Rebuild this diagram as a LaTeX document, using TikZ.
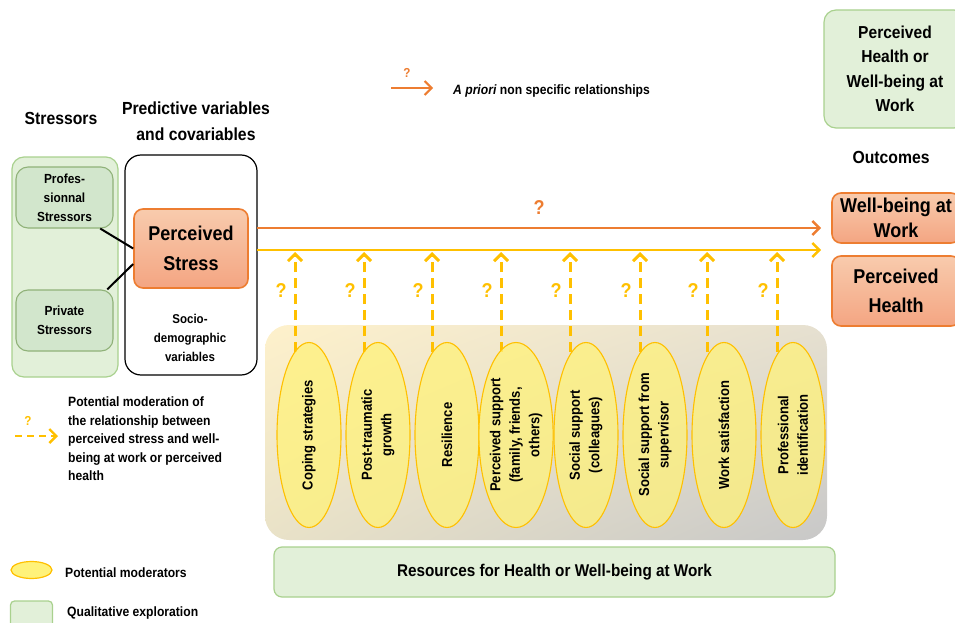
\documentclass[tikz,border=0pt]{standalone}
\usepackage{fontspec}
\setmainfont{Liberation Sans}[FakeStretch=0.9]
\usetikzlibrary{positioning, shapes.geometric, arrows.meta, shadings}
\definecolor{orangeline}{HTML}{ED7D31}
\definecolor{yellowline}{HTML}{FFC000}
\definecolor{stresstop}{HTML}{F8CBAD}
\definecolor{stressbot}{HTML}{F4A582}
\definecolor{greenfill}{HTML}{E2F0D9}
\definecolor{greenline}{HTML}{A9D18E}
\definecolor{stressorfill}{HTML}{D2E6CC}
\definecolor{modfill}{HTML}{FFF27A}
\definecolor{shadeUL}{HTML}{FEF1CB}
\definecolor{shadeUR}{HTML}{E6E0D0}
\definecolor{shadeLL}{HTML}{E9E2C8}
\definecolor{shadeLR}{HTML}{C8C8C8}

\begin{document}
\begin{tikzpicture}[x=1pt, y=-1pt, inner sep=0pt, font=\bfseries,
      head/.style={align=center, font=\fontsize{17.5}{26}\selectfont\bfseries},
      small/.style={align=center, font=\fontsize{13.2}{19}\selectfont\bfseries},
      legend/.style={font=\fontsize{13.5}{18.5}\selectfont\bfseries},
      greenbox/.style={draw=greenline, line width=1.2pt, fill=greenfill, rounded corners=12pt},
      stressorbox/.style={draw=greenline!85!black, line width=1.1pt, fill=stressorfill, rounded corners=12pt,
        minimum width=97, minimum height=61, small},
      outbox/.style={draw=orangeline, line width=1.6pt, top color=stresstop, bottom color=stressbot,
        rounded corners=9pt, align=center},
      moderator/.style={ellipse, draw=yellowline, line width=1.1pt, fill=modfill, fill opacity=0.75, text opacity=1,
        minimum width=185, minimum height=64, rotate=90, align=center,
        font=\fontsize{14.5}{19.5}\selectfont\bfseries},
      relarrow/.style={orangeline, line width=2.4pt, -{Straight Barb[length=7pt, width=14pt]}},
      modarrow/.style={yellowline, line width=2.4pt, -{Straight Barb[length=7pt, width=14pt]}},
      dasharrow/.style={modarrow, line width=3pt, dash pattern=on 10pt off 6pt},
      qmark/.style={font=\fontsize{20}{22}\selectfont\bfseries}]
  \useasboundingbox (0,0) rectangle (955,623);
  % stressors
  \node[head] (stressors) at (61,118) {Stressors};
  \node[greenbox, minimum width=106, minimum height=220] (stressgroup) at (65,267) {};
  \node[stressorbox] (prof) at (64.5,197.5) {Profes-\\sionnal\\Stressors};
  \node[stressorbox] (priv) at (64.5,320.5) {Private\\Stressors};
  % predictive variables, perceived stress
  \node[head] (predictive) at (196,121) {Predictive variables\\and covariables};
  \node[draw, line width=1.2pt, rounded corners=16pt, minimum width=132, minimum height=220] (covbox) at (191,265) {};
  \node[outbox, minimum width=114, minimum height=79,
    font=\fontsize{20}{30}\selectfont\bfseries] (stress) at (191,248.5) {Perceived\\Stress};
  \node[small, font=\fontsize{12.8}{19}\selectfont\bfseries] (socio) at (190,338) {Socio-\\demographic\\variables};
  \draw[line width=2pt] (prof.-41) -- (stress.west);
  \draw[line width=2pt] (priv.36) -- (stress.195);
  % outcomes
  \node[greenbox, minimum width=142, minimum height=118, align=center,
    font=\fontsize{17.3}{24.5}\selectfont\bfseries] (qualout) at (895,69) {Perceived\\Health or\\Well-being at\\Work};
  \node[head] (outcomes) at (891,157) {Outcomes};
  \node[outbox, minimum width=128, minimum height=50,
    font=\fontsize{20}{25}\selectfont\bfseries] (wellbeing) at (896,218) {Well-being at\\Work};
  \node[outbox, minimum width=128, minimum height=70,
    font=\fontsize{20}{29}\selectfont\bfseries] (health) at (896,291) {Perceived\\Health};
  % relationships
  \coordinate (oS) at (257,228);
  \coordinate (oE) at (821,228);
  \coordinate (yS) at (257,250);
  \coordinate (yE) at (821,250);
  \draw[relarrow] (oS) -- (oE);
  \draw[modarrow] (yS) -- (yE);
  \node[qmark, text=orangeline] (qrel) at (539,208) {?};
  % resources
  \shade[rounded corners=24pt, upper left=shadeUL, upper right=shadeUR,
    lower left=shadeLL, lower right=shadeLR] (265,325) rectangle (827,540);
  \foreach \dx/\ex/\txt [count=\i] in {
      295/309/{Coping strategies},
      364/378/{Post-traumatic\\growth},
      432/447/{Resilience},
      501/516/{Perceived support\\(family, friends,\\others)},
      570/586/{Social support\\(colleagues)},
      640/655/{Social support from\\supervisor},
      707/724/{Work satisfaction},
      777/793/{Professional\\identification}}{
    \coordinate (d\i) at (\dx,352);
    \draw[dasharrow, shorten >=2pt] (d\i) -- (d\i |- yS);
    \node[qmark, text=yellowline] (q\i) at (\dx-14,291) {?};
    \node[moderator] (m\i) at (\ex,435) {\txt};
  }
  \node[greenbox, rounded corners=8pt, minimum width=561, minimum height=50,
    font=\fontsize{17}{20}\selectfont\bfseries] (resources) at (554.5,572) {Resources for Health or Well-being at Work};
  % legend
  \coordinate (lA) at (391,88);
  \coordinate (lB) at (433,88);
  \draw[relarrow, line width=2pt] (lA) -- (lB);
  \node[text=orangeline, font=\fontsize{13}{14}\selectfont\bfseries] (lq1) at (407,73) {?};
  \node[legend, anchor=west] (ltxt1) at (453,91) {\textit{A priori} non specific relationships};
  \coordinate (lC) at (15,436);
  \coordinate (lD) at (58,436);
  \draw[dasharrow, line width=2.4pt, dash pattern=on 7pt off 5pt] (lC) -- (lD);
  \node[text=yellowline, font=\fontsize{13}{14}\selectfont\bfseries] (lq2) at (28,421) {?};
  \node[legend, anchor=north west, align=left] (ltxt2) at (68,397)
    {Potential moderation of\\the relationship between\\perceived stress and well-\\being at work or perceived\\health};
  \node[ellipse, draw=yellowline, fill=modfill, line width=1.2pt, minimum width=41, minimum height=17] (lmod) at (31.5,570) {};
  \node[legend, anchor=west] (ltxt3) at (65,573) {Potential moderators};
  \node[greenbox, rounded corners=4pt, minimum width=42, minimum height=30] (lqual) at (31.5,616) {};
  \node[legend, anchor=west] (ltxt4) at (67,613) {Qualitative exploration};
\end{tikzpicture}
\end{document}
